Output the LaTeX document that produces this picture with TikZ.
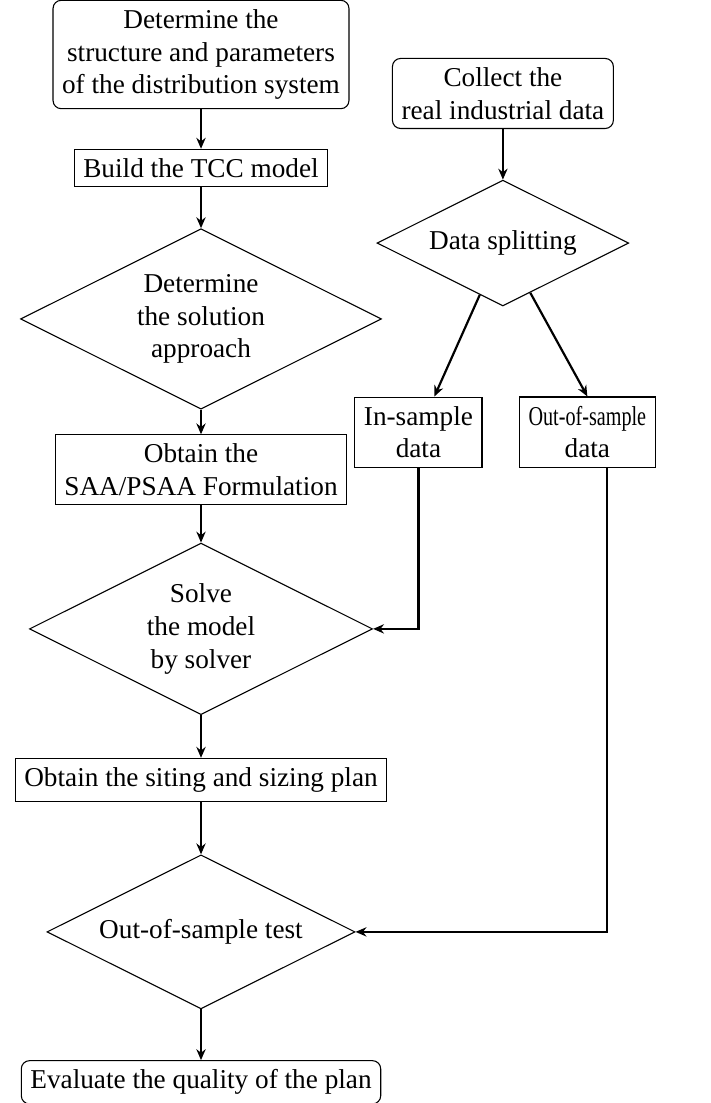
\documentclass[tikz,border=0pt]{standalone}
\usepackage{graphicx}
\usepackage{fontspec}
\setmainfont{Liberation Serif}
\usetikzlibrary{positioning,arrows.meta,shapes.geometric}

\begin{document}
\begin{tikzpicture}[
    box/.style={draw, align=center},
    rbox/.style={draw, rounded corners=3pt, align=center},
    decision/.style={draw, diamond, aspect=2, align=center},
    arr/.style={-{Stealth[length=4pt, width=3.4pt]}, thick},
    node distance=55.4pt,
    on grid
]
\useasboundingbox (-73.77pt,-384.8pt) rectangle (186.8pt,20pt);

% left column
\node[rbox] (det)
{Determine the\\structure and parameters\\of the distribution system};

\node[box, below=41.65pt of det] (tcc) {Build the TCC model};

\node[decision, below=of tcc] (appr)
{Determine\\the solution\\approach};

\node[box, below=of appr] (saa)
{Obtain the\\SAA/PSAA Formulation};

\node[decision, below=58.35pt of saa] (solve)
{Solve\\the model\\by solver};

\node[box, below=of solve] (plan) {Obtain the siting and sizing plan};

\node[decision, below=55.8pt of plan] (oos) {Out-of-sample test};

\node[rbox, below=55.2pt of oos] (eval) {Evaluate the quality of the plan};

% right column
\node[rbox, below right=14.3pt and 110.8pt of det] (collect)
{Collect the\\real industrial data};

\node[decision, below=54.9pt of collect] (split) {Data splitting};

\node[box, below left=69.4pt and 31pt of split] (insmp) {In-sample\\data};
\node[box, below right=69.4pt and 31pt of split] (outsmp)
{\scalebox{0.74}[1]{Out-of-sample}\\data};

\draw[arr] (det) -- (tcc);
\draw[arr] (tcc) -- (appr);
\draw[arr] (appr) -- (saa);
\draw[arr] (saa) -- (solve);
\draw[arr] (solve) -- (plan);
\draw[arr] (plan) -- (oos);
\draw[arr] (oos) -- (eval);

\draw[arr] (collect) -- (split);
\draw[arr] (split) -- (insmp);
\draw[arr] (split) -- (outsmp.north);
\draw[arr] (insmp.south) |- (solve.east);
\draw[arr] ([xshift=7.3pt]outsmp.south) |- (oos.east);

\end{tikzpicture}
\end{document}
